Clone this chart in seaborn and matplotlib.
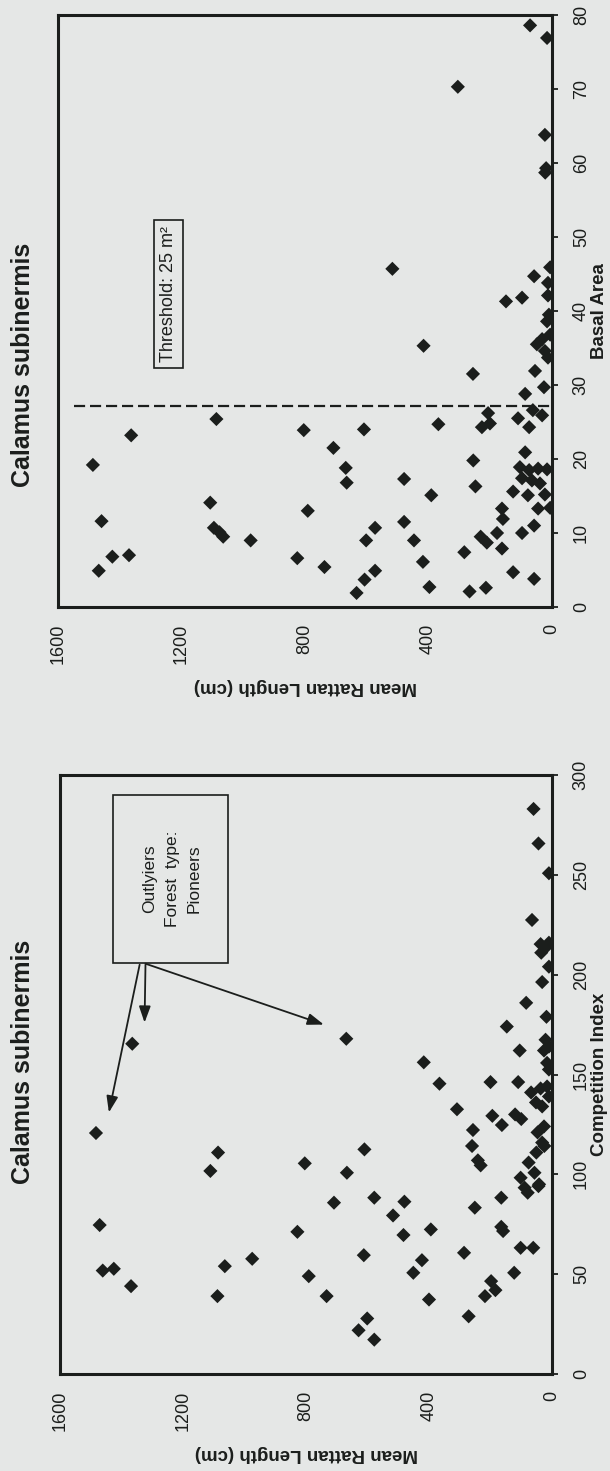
import numpy as np
import pandas as pd
import matplotlib
matplotlib.use("Agg")
import matplotlib.pyplot as plt
import seaborn as sns
from matplotlib.patches import Rectangle

# --- data (rattan length cm, basal area / competition index) ---
basal_area = [
    4.9, 11.6, 19.2, 6.8, 7.0, 23.2, 25.4, 14.1, 10.7, 10.1, 9.5, 9.0, 6.6, 23.9, 13.0,
    5.4, 21.5, 18.8, 16.8, 1.9, 3.7, 9.0, 24.0, 4.9, 10.7, 17.3, 11.5, 9.0, 6.1, 2.7,
    15.1, 24.7, 7.4, 2.1, 31.5, 19.8, 16.3, 9.5,
    24.3, 24.8, 26.2, 25.5, 26.6, 25.9, 24.3, 28.8, 29.7, 31.9, 20.9, 18.9, 18.5, 18.7,
    18.6, 17.4, 17.1, 16.7, 15.6, 15.1, 15.2, 13.3, 13.4, 13.3, 11.9, 10.0, 8.7, 7.9,
    10.0, 11.0, 4.7, 3.8, 2.6,
    78.6, 76.9, 70.3, 63.8, 59.3, 58.7, 45.7, 45.9, 44.7, 43.8, 42.1, 41.3, 41.8, 39.5,
    38.6, 36.2, 35.5, 36.8, 34.6, 33.7, 35.3,
]
rattan_basal = [
    1468, 1459, 1487, 1424, 1370, 1363, 1087, 1107, 1095, 1077, 1065, 976, 825, 804, 791,
    737, 708, 668, 665, 633, 607, 602, 609, 573, 573, 479, 479, 447, 418, 397,
    391, 368, 284, 267, 256, 255, 248, 231,
    227, 201, 207, 110, 62, 32, 74, 87, 26, 55, 87, 104, 74, 45,
    16, 97, 65, 39, 126, 78, 23, 45, 6, 162, 159, 178, 211, 162,
    97, 58, 126, 58, 214,
    71, 16, 305, 23, 19, 22, 517, 6, 58, 13, 13, 149, 97, 10,
    16, 32, 49, 6, 23, 13, 416,
]

competition_index = [
    74.6, 51.8, 52.7, 44.0, 101.7, 110.9, 54.0, 39.0, 57.7, 71.2, 105.5, 49.0, 39.0, 85.8,
    100.8, 112.5, 59.5, 21.9, 27.8, 17.2, 88.3, 79.4, 86.3, 69.6, 50.7, 57.0, 72.4, 37.3,
    60.7, 28.9, 114.2, 107.0, 104.5, 83.3, 39.0, 46.5, 42.0, 88.3, 73.7, 71.6, 50.7, 63.2,
    63.2, 98.3, 93.3, 90.8, 100.8, 94.1, 105.9, 110.9, 114.2,
    120.7, 165.4, 167.9, 156.1, 145.4, 132.6, 122.2,
    283.0, 265.7, 250.8, 227.4, 215.3, 214.0, 211.0, 216.0, 204.0, 196.3, 185.9, 178.9,
    174.0, 162.0, 167.4, 164.0, 162.0, 155.8, 152.5, 146.2, 146.2, 141.0, 143.0, 144.0,
    136.0, 134.0, 139.0, 129.3, 124.7, 130.0, 127.7, 124.0, 121.0, 115.9, 95.0,
]
rattan_competition = [
    1471, 1461, 1425, 1369, 1111, 1086, 1064, 1088, 975, 828, 804, 791, 733, 709,
    667, 610, 612, 629, 601, 578, 578, 517, 480, 483, 451, 423, 394, 400,
    286, 271, 260, 241, 232, 251, 218, 198, 184, 165, 165, 159, 123, 102,
    61, 102, 89, 79, 57, 44, 76, 51, 25,
    1483, 1365, 669, 417, 366, 309, 257,
    60, 44, 10, 65, 37, 18, 35, 10, 10, 32, 84, 18,
    147, 105, 21, 10, 26, 16, 10, 200, 110, 68, 37, 16,
    52, 32, 10, 194, 163, 120, 100, 26, 47, 32, 42,
]

rattan_ticks = [0, 400, 800, 1200, 1600]
basal_ticks = [0, 10, 20, 30, 40, 50, 60, 70, 80]
competition_ticks = [0, 50, 100, 150, 200, 250, 300]
threshold_basal = 27.2

title = "Calamus subinermis"
paper = "#e5e7e6"
ink = "#1b1e1c"

sns.set_style("white")
plt.rcParams["font.family"] = ["Liberation Sans", "DejaVu Sans"]

fig = plt.figure(figsize=(6.10, 14.71), dpi=100, facecolor=paper)
ax_top = fig.add_axes([58 / 610, 1 - 607 / 1471, 494 / 610, 592 / 1471])
ax_bot = fig.add_axes([60 / 610, 1 - 1374 / 1471, 492 / 610, 599 / 1471])

df_top = pd.DataFrame({"rattan": rattan_basal, "basal": basal_area})
df_bot = pd.DataFrame({"rattan": rattan_competition, "ci": competition_index})


def style_axis(ax, yticks, ylim, ylabel):
    ax.set_facecolor(paper)
    ax.set_xlim(1600, 0)
    ax.set_ylim(*ylim)
    ax.set_xticks(rattan_ticks)
    ax.set_yticks(yticks)
    ax.yaxis.tick_right()
    ax.yaxis.set_label_position("right")
    for sp in ax.spines.values():
        sp.set_visible(True)
        sp.set_linewidth(2.2)
        sp.set_color(ink)
    ax.tick_params(axis="both", direction="out", length=4, width=1.3, colors=ink,
                   labelsize=13)
    ax.tick_params(axis="x", pad=8)
    ax.tick_params(axis="y", pad=11)
    for lab in ax.get_xticklabels():
        lab.set_rotation(90)
    for lab in ax.get_yticklabels():
        lab.set_rotation(90)
        lab.set_va("center")
    ax.set_xlabel("Mean Rattan Length (cm)", rotation=180, fontsize=13.5,
                  fontweight="bold", color=ink, labelpad=10)
    ax.set_ylabel(ylabel, rotation=90, fontsize=13.5, fontweight="bold",
                  color=ink, labelpad=1)


# --- top panel: basal area ---
sns.scatterplot(data=df_top, x="rattan", y="basal", marker="D", s=52, color=ink,
                edgecolor="none", ax=ax_top, legend=False)
style_axis(ax_top, basal_ticks, (0, 80), "Basal Area")
ax_top.axhline(threshold_basal, xmin=0.032, xmax=1.0, color=ink, lw=1.6,
               linestyle=(0, (5, 2.2)))
ax_top.text(1242, 42.3, "Threshold: 25 m²", rotation=90, ha="center", va="center",
            fontsize=13, color=ink,
            bbox=dict(boxstyle="square,pad=0.35", fc="none", ec=ink, lw=1.2))

# --- bottom panel: competition index ---
sns.scatterplot(data=df_bot, x="rattan", y="ci", marker="D", s=52, color=ink,
                edgecolor="none", ax=ax_bot, legend=False)
style_axis(ax_bot, competition_ticks, (0, 300), "Competition Index")

ax_bot.add_patch(Rectangle((1428, 206), 1053 - 1428, 290 - 206, fill=False,
                           ec=ink, lw=1.2))
ax_bot.text(1235, 248, "Outlyiers\nForest  type:\nPioneers", rotation=90,
            ha="center", va="center", multialignment="center", linespacing=1.6,
            fontsize=12.5, color=ink)
arrow_style = dict(arrowstyle="-|>,head_length=0.7,head_width=0.25", lw=1.3,
                   color=ink, mutation_scale=14, shrinkA=0, shrinkB=0)
ax_bot.annotate("", xy=(1441, 131), xytext=(1341, 205), arrowprops=arrow_style)
ax_bot.annotate("", xy=(1325, 176), xytext=(1322, 205), arrowprops=arrow_style)
ax_bot.annotate("", xy=(742, 175), xytext=(1322, 205.5), arrowprops=arrow_style)

# titles sit on the left because the page is printed sideways
fig.text(23 / 610, 1 - 365 / 1471, title, rotation=90, ha="center", va="center",
         fontsize=18, fontweight="bold", color=ink)
fig.text(23 / 610, 1 - 1062 / 1471, title, rotation=90, ha="center", va="center",
         fontsize=18, fontweight="bold", color=ink)

fig.savefig("out.png", dpi=100, facecolor=paper)
